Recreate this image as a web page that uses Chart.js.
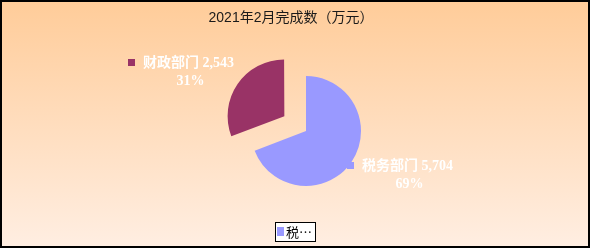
<!DOCTYPE html>
<html>
<head>
<meta charset="utf-8">
<script src="https://cdn.jsdelivr.net/npm/chart.js@4"></script>
<style>
  html, body { margin: 0; padding: 0; }
  #wrap { width: 590px; height: 248px; position: relative; }
</style>
</head>
<body>
<div id="wrap"><canvas id="chart" width="590" height="248"></canvas></div>
<script>
// chart data
const title = '2021年2月完成数（万元）';
const categories = ['税务部门', '财政部门'];
const values = [5704, 2543];
const sliceColors = ['#9999FF', '#993366'];

const total = values.reduce((a, b) => a + b, 0);

// background gradient + frame + title
const backdrop = {
    id: 'backdrop',
    beforeDraw(chart) {
        const { ctx, width, height } = chart;
        const g = ctx.createLinearGradient(0, 0, 0, height);
        g.addColorStop(0, '#FFCC99');
        g.addColorStop(1, '#FFEEE2');
        ctx.save();
        ctx.fillStyle = g;
        ctx.fillRect(0, 0, width, height);
        ctx.strokeStyle = '#000';
        ctx.lineWidth = 2;
        ctx.strokeRect(1, 1, width - 2, height - 2);
        ctx.fillStyle = '#1a1a1a';
        ctx.font = '14px "Liberation Sans", "Noto Sans CJK SC", sans-serif';
        ctx.textAlign = 'center';
        ctx.textBaseline = 'middle';
        ctx.fillText(title, 291, 18);
        ctx.restore();
    }
};

// slice labels with a little colour marker
const sliceLabels = {
    id: 'sliceLabels',
    afterDatasetsDraw(chart, args, opts) {
        const { ctx } = chart;
        const meta = chart.getDatasetMeta(0);
        ctx.save();
        ctx.font = 'bold 14px "Liberation Serif", "Noto Sans CJK SC", serif';
        ctx.textBaseline = 'middle';
        meta.data.forEach((arc, i) => {
            const p = opts.anchors[i];
            const v = values[i];
            const line1 = categories[i] + ' ' + v.toLocaleString('en-US');
            const line2 = Math.round(v / total * 100) + '%';
            const w1 = ctx.measureText(line1).width;
            ctx.fillStyle = sliceColors[i];
            ctx.fillRect(p.x - 15, p.y - 4, 7, 7);
            ctx.fillStyle = '#fff';
            ctx.textAlign = 'left';
            ctx.fillText(line1, p.x, p.y);
            ctx.textAlign = 'center';
            ctx.fillText(line2, p.x + w1 / 2 + 2, p.y + 18);
        });
        ctx.restore();
    }
};

// boxed legend, too narrow for the whole name
const boxLegend = {
    id: 'boxLegend',
    afterDraw(chart) {
        const { ctx } = chart;
        const x = 275, y = 222, w = 40, h = 19;
        ctx.save();
        ctx.fillStyle = '#fff';
        ctx.fillRect(x, y, w, h);
        ctx.strokeStyle = '#000';
        ctx.lineWidth = 1;
        ctx.strokeRect(x + 0.5, y + 0.5, w, h);
        ctx.fillStyle = sliceColors[0];
        ctx.fillRect(x + 2, y + 5, 7, 9);
        ctx.fillStyle = '#000';
        ctx.font = '13px "Noto Sans CJK SC", sans-serif';
        ctx.textBaseline = 'middle';
        ctx.fillText(categories[0].slice(0, 1) + '…', x + 11, y + 10);
        ctx.restore();
    }
};

new Chart(document.getElementById('chart'), {
    type: 'pie',
    data: {
        labels: categories,
        datasets: [{
            data: values,
            backgroundColor: sliceColors,
            borderWidth: 0,
            offset: [0, 105]
        }]
    },
    options: {
        responsive: false,
        animation: false,
        radius: 55,
        layout: { padding: { left: 40, right: 18, top: 30, bottom: 16 } },
        plugins: {
            legend: { display: false },
            tooltip: { enabled: false },
            sliceLabels: {
                anchors: [{ x: 362, y: 166 }, { x: 143, y: 63 }]
            }
        }
    },
    plugins: [backdrop, sliceLabels, boxLegend]
});
</script>
</body>
</html>
